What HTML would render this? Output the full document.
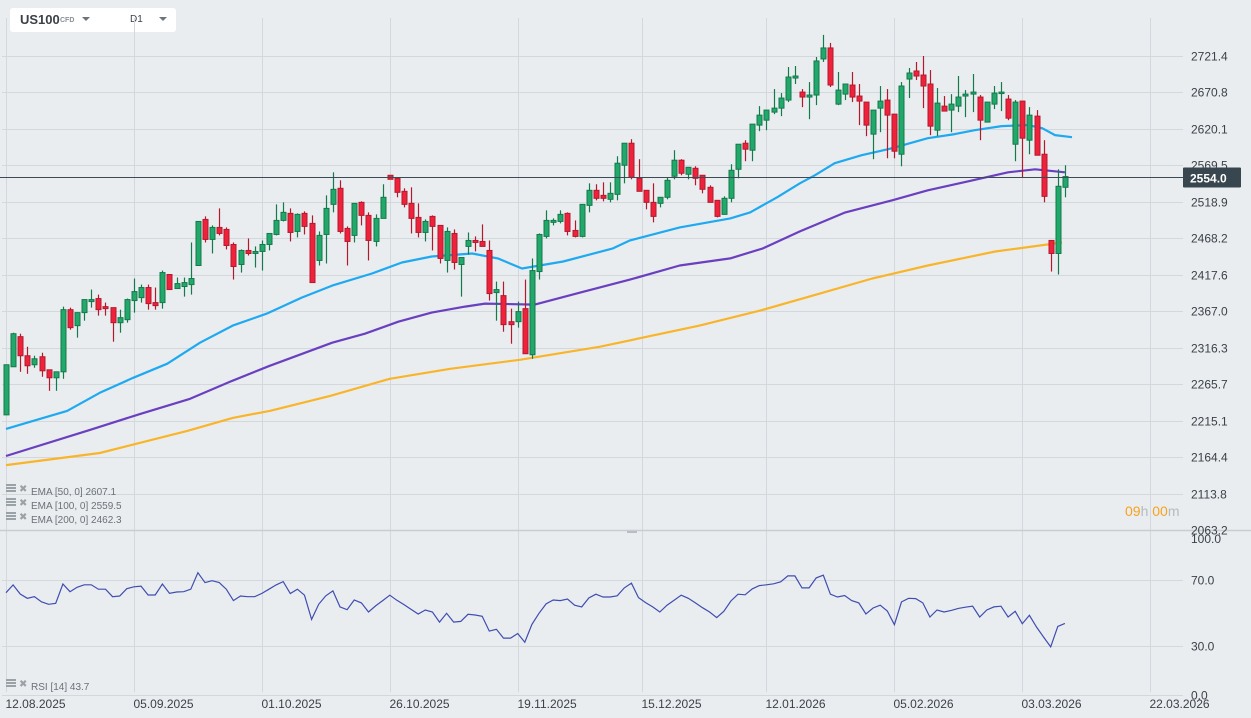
<!DOCTYPE html>
<html><head><meta charset="utf-8">
<style>
html,body{margin:0;padding:0;background:#eaedf0;}
body{width:1251px;height:718px;overflow:hidden;position:relative;font-family:"Liberation Sans",sans-serif;}
#chart{position:absolute;left:0;top:0;}
.hdr{position:absolute;left:10px;top:8px;width:166px;height:24px;background:#fff;border-radius:3px;}
.sym{position:absolute;left:10px;top:4px;font-size:13px;font-weight:bold;color:#3a4148;}
.cfd{position:absolute;left:50px;top:9px;font-size:7px;font-weight:bold;color:#8a9096;}
.tri{position:absolute;width:0;height:0;border-left:4px solid transparent;border-right:4px solid transparent;border-top:4px solid #6d747a;}
.tf{position:absolute;left:120px;top:6px;font-size:10px;color:#3a4148;}
</style></head>
<body>
<div class="hdr">
  <span class="sym">US100</span>
  <span class="cfd">CFD</span>
  <span class="tri" style="left:72px;top:9px"></span>
  <span class="tf">D1</span>
  <span class="tri" style="left:149px;top:9px"></span>
</div>
<svg id="chart" width="1251" height="718" xmlns="http://www.w3.org/2000/svg"></svg>
<script>
const opens=[2223.1,2289.9,2331.7,2305.2,2292.7,2303.8,2285.7,2274.6,2282.9,2369.2,2347.0,2365.1,2380.4,2384.6,2373.4,2372.0,2351.1,2355.3,2381.8,2385.9,2399.9,2379.0,2379.0,2418.0,2398.5,2401.3,2404.0,2430.5,2494.5,2466.7,2483.4,2480.6,2459.7,2431.9,2451.4,2447.2,2450.0,2459.7,2473.6,2493.1,2502.9,2477.8,2502.9,2489.0,2437.5,2473.6,2515.4,2537.7,2482.0,2472.3,2518.2,2500.1,2463.9,2495.9,2555.8,2551.6,2533.5,2516.8,2497.3,2476.4,2498.7,2486.2,2437.5,2475.0,2431.9,2457.0,2465.3,2463.9,2451.4,2392.9,2388.7,2352.5,2352.5,2370.6,2306.6,2422.1,2470.9,2490.4,2491.7,2502.9,2479.2,2470.9,2514.0,2534.9,2527.9,2522.4,2529.3,2569.7,2600.3,2551.6,2534.9,2518.2,2516.8,2525.2,2554.4,2576.7,2557.2,2565.5,2555.8,2539.1,2521.0,2501.5,2523.8,2564.1,2600.3,2590.6,2625.4,2632.3,2643.5,2649.0,2660.2,2690.8,2671.3,2664.4,2667.2,2717.3,2732.6,2654.6,2668.5,2681.1,2665.8,2657.4,2612.9,2649.0,2660.2,2640.7,2585.0,2689.4,2700.6,2695.0,2682.5,2618.4,2651.8,2646.3,2651.8,2665.8,2668.5,2664.4,2629.6,2654.6,2669.9,2661.6,2598.9,2658.8,2604.5,2637.9,2585.0,2465.3,2447.2,2539.1];
const highs=[2292.7,2337.2,2335.8,2317.7,2305.2,2309.4,2285.7,2282.9,2373.4,2372.0,2365.1,2383.2,2397.1,2390.1,2379.0,2372.0,2369.2,2384.6,2412.4,2404.0,2404.0,2399.9,2423.5,2418.0,2413.8,2413.8,2462.5,2491.7,2498.7,2486.2,2509.8,2483.4,2462.5,2452.8,2468.1,2457.0,2465.3,2475.0,2515.4,2518.2,2509.8,2502.9,2505.7,2500.1,2477.8,2527.9,2559.9,2548.8,2484.8,2516.8,2519.6,2504.3,2501.5,2543.3,2555.8,2551.6,2537.7,2539.1,2516.8,2494.5,2500.1,2486.2,2483.4,2480.6,2441.6,2476.4,2470.9,2487.6,2465.3,2408.2,2408.2,2370.6,2380.4,2411.0,2440.3,2475.0,2507.1,2495.9,2507.1,2504.3,2493.1,2515.4,2544.6,2543.3,2546.0,2546.0,2582.2,2600.3,2605.9,2578.1,2534.9,2544.6,2525.2,2553.0,2590.6,2578.1,2566.9,2568.3,2555.8,2541.9,2521.0,2526.5,2571.1,2598.9,2604.5,2626.8,2651.8,2646.3,2675.5,2669.9,2706.1,2707.5,2675.5,2685.2,2720.0,2750.7,2739.5,2699.2,2682.5,2699.2,2682.5,2657.4,2646.3,2679.7,2675.5,2640.7,2685.2,2704.7,2713.1,2721.4,2701.9,2676.9,2665.8,2668.5,2693.6,2674.1,2696.4,2667.2,2657.4,2679.7,2685.2,2667.2,2660.2,2658.8,2650.4,2646.3,2604.5,2465.3,2564.1,2569.7];
const lows=[2223.1,2289.9,2282.9,2280.1,2288.5,2276.0,2256.5,2256.5,2273.2,2341.4,2330.3,2353.9,2372.0,2360.9,2360.9,2324.7,2337.2,2351.1,2365.1,2379.0,2369.2,2369.2,2370.6,2397.1,2398.5,2387.3,2390.1,2430.5,2462.5,2447.2,2472.3,2452.8,2411.0,2420.7,2444.4,2427.7,2423.5,2451.4,2472.3,2491.7,2463.9,2469.5,2473.6,2406.8,2430.5,2433.3,2504.3,2475.0,2430.5,2462.5,2486.2,2437.5,2457.0,2495.9,2550.2,2525.2,2511.2,2475.0,2469.5,2463.9,2451.4,2433.3,2420.7,2424.9,2387.3,2445.8,2450.0,2457.0,2381.8,2353.9,2338.6,2321.9,2344.2,2308.0,2301.0,2411.0,2468.1,2486.2,2489.0,2472.3,2469.5,2469.5,2504.3,2521.0,2519.6,2518.2,2521.0,2544.6,2550.2,2533.5,2508.5,2490.4,2511.2,2522.4,2550.2,2555.8,2550.2,2541.9,2530.7,2518.2,2497.3,2501.5,2518.2,2551.6,2575.3,2575.3,2617.0,2618.4,2640.7,2637.9,2657.4,2682.5,2650.4,2633.7,2653.2,2713.1,2678.3,2653.2,2660.2,2657.4,2625.4,2610.1,2578.1,2615.6,2579.4,2579.4,2568.3,2663.0,2688.0,2649.0,2611.5,2610.1,2644.9,2615.6,2643.5,2636.5,2643.5,2604.5,2629.6,2647.7,2644.9,2632.3,2575.3,2553.0,2585.0,2583.6,2518.2,2422.1,2418.0,2525.2];
const closes=[2292.7,2335.8,2305.2,2291.3,2301.0,2284.3,2274.6,2282.9,2369.2,2344.2,2365.1,2383.2,2383.2,2369.2,2370.6,2351.1,2358.1,2383.2,2394.3,2399.9,2377.6,2374.8,2420.7,2397.1,2405.4,2406.8,2412.4,2491.7,2466.7,2483.4,2475.0,2458.3,2429.1,2451.4,2447.2,2450.0,2459.7,2475.0,2493.1,2504.3,2476.4,2501.5,2484.8,2406.8,2472.3,2509.8,2536.3,2477.8,2463.9,2516.8,2500.1,2465.3,2495.9,2525.2,2550.2,2532.1,2515.4,2495.9,2476.4,2491.7,2484.8,2440.3,2477.8,2434.7,2441.6,2465.3,2462.5,2457.0,2391.5,2397.1,2348.4,2348.4,2366.5,2308.0,2423.5,2473.6,2493.1,2493.1,2501.5,2477.8,2470.9,2515.4,2534.9,2523.8,2523.8,2530.7,2572.5,2600.3,2553.0,2533.5,2518.2,2498.7,2525.2,2548.8,2576.7,2558.6,2566.9,2551.6,2536.3,2518.2,2498.7,2523.8,2562.7,2598.9,2592.0,2626.8,2639.3,2646.3,2649.0,2663.0,2692.2,2693.6,2664.4,2667.2,2714.5,2732.6,2681.1,2674.1,2682.5,2664.4,2658.8,2625.4,2646.3,2658.8,2639.3,2589.2,2679.7,2697.8,2693.6,2679.7,2624.0,2656.0,2644.9,2654.6,2664.4,2668.5,2671.3,2632.3,2657.4,2669.9,2671.3,2635.1,2657.4,2607.3,2639.3,2583.6,2526.5,2447.2,2540.5,2554.0];
const ema50Idx=[0,3.8,8.6,13.2,17.9,22.7,27.3,31.9,36.7,41.6,45.9,51.5,55.7,59.9,65.6,69.2,72.6,78.4,85.4,87.8,94.8,101.9,104.7,108.5,111.7,113.8,116.6,120.4,124.7,129.7,133.5,136.3,140.1,143.8,145.8,147.6,150];
const ema50Val=[2203.6,2214.7,2228.6,2253.7,2274.6,2294.1,2323.3,2347.0,2363.7,2385.9,2402.6,2419.4,2434.7,2443.0,2447.2,2440.3,2426.3,2436.1,2454.2,2465.3,2483.4,2495.9,2504.3,2525.2,2544.6,2555.8,2572.5,2583.6,2593.4,2607.3,2612.9,2618.4,2624.0,2625.4,2621.2,2611.5,2608.7];
const ema100Idx=[0,11.8,18.9,25.9,31.5,37.1,42.1,45.9,50.5,55.2,59.9,64.6,67.4,74.4,80.8,87.8,94.8,101.9,106.5,111.7,118.1,124.7,129.7,135.4,141.0,144.8,149];
const ema100Val=[2166.0,2202.2,2224.5,2245.4,2269.0,2291.3,2309.4,2323.3,2335.8,2352.5,2365.1,2373.4,2377.6,2376.2,2392.9,2411.0,2430.5,2440.3,2454.2,2477.8,2504.3,2521.0,2534.9,2547.4,2559.9,2564.1,2559.9];
const ema200Idx=[0,13.2,25.5,31.9,37.1,45.6,54.0,62.5,72.3,83.6,97.6,106.1,114.5,121.9,129.7,139.2,148.6];
const ema200Val=[2153.4,2170.2,2200.8,2218.9,2228.6,2249.5,2273.2,2287.1,2299.6,2317.7,2347.0,2367.9,2391.5,2412.4,2430.5,2450.0,2462.5];
const rsiVals=[62.0,66.7,61.2,58.6,59.6,56.5,55.0,55.6,67.3,62.6,65.3,66.8,66.8,64.1,64.1,59.6,60.0,64.4,65.6,66.0,60.6,60.6,67.3,61.6,62.4,62.6,64.1,74.1,68.1,69.3,68.1,64.1,57.2,60.0,59.6,59.6,61.6,64.1,66.7,68.7,61.5,64.1,60.5,45.8,55.0,60.1,63.1,53.4,51.7,57.6,55.8,50.3,54.0,57.2,60.5,57.4,54.8,51.9,49.1,51.5,50.3,44.2,49.5,44.2,44.6,48.9,48.5,47.7,38.7,39.8,34.5,34.5,37.3,32.0,42.8,49.5,55.2,57.6,57.2,58.2,54.4,53.4,58.8,61.1,59.4,59.4,60.1,64.9,67.8,59.0,56.0,53.4,50.3,54.4,57.4,60.5,58.6,55.8,52.9,50.3,46.9,50.7,57.0,61.1,60.7,64.3,66.3,66.8,67.4,68.6,72.2,72.2,64.9,64.9,71.0,72.6,61.1,59.4,60.3,57.2,55.8,49.1,52.7,54.4,50.9,42.6,56.4,58.6,58.4,55.8,47.3,51.5,50.3,51.3,52.5,53.2,53.8,47.3,51.5,53.4,53.8,47.3,50.7,43.2,48.3,41.2,35.1,29.2,41.6,43.4];
const priceTicks=[2721.4,2670.8,2620.1,2569.5,2518.9,2468.2,2417.6,2367.0,2316.3,2265.7,2215.1,2164.4,2113.8,2063.2];
const rsiTicks=[100,70,30,0];
const dateLabels=["12.08.2025","05.09.2025","01.10.2025","26.10.2025","19.11.2025","15.12.2025","12.01.2026","05.02.2026","03.03.2026","22.03.2026"];
const dateIdx=[0,18,36,54,72,89.5,107,125,143,161];
const lastPrice=2554.0;

const NS="http://www.w3.org/2000/svg";
const svg=document.getElementById('chart');
const X0=6, DX=7.107, PLOT_R=1183;
const xs=i=>X0+DX*i;
const yp=p=>56+(2721.4-p)*0.7202;
const yr=v=>579.5+(70-v)*1.65;
function mk(tag,attrs,parent){const e=document.createElementNS(NS,tag);for(const k in attrs)e.setAttribute(k,attrs[k]);(parent||svg).appendChild(e);return e;}

const grid=mk('g',{});


dateLabels.forEach((d,k)=>{
  const x=Math.round(xs(dateIdx[k]))+0.5;
  const l=mk('line',{x1:x,x2:x,y1:18,y2:692,stroke:'#d3d8dc','stroke-width':1},grid);
  
  
  const t=mk('text',{x:x-1,y:708,'font-size':12,fill:'#3a4148','font-family':'Liberation Sans, sans-serif'});
  t.textContent=d;
  
  
});
priceTicks.forEach(p=>{
  const y=Math.round(yp(p))+0.5;
  const last=p===2063.2;
  const l=mk('line',{x1:last?0:2,x2:last?1251:PLOT_R,y1:y,y2:y,stroke:last?'#c8cdd2':'#d3d8dc','stroke-width':last?1.5:1},grid);
  
  
  const t=mk('text',{x:1191,y:y+4,'font-size':12,fill:'#3a4148','font-family':'Liberation Sans, sans-serif'});
  t.textContent=p.toFixed(1);
  
  
});
rsiTicks.forEach(v=>{
  const y=Math.round(yr(v))+0.5;
  if(v!==100){
    const l=mk('line',{x1:2,x2:PLOT_R,y1:y,y2:y,stroke:'#d3d8dc','stroke-width':1},grid);
    
    
  }
  const t=mk('text',{x:1191,y:v===100?543:y+4,'font-size':12,fill:'#3a4148','font-family':'Liberation Sans, sans-serif'});
  t.textContent=v.toFixed(1);
  
  
});
const hd=mk('rect',{x:627,y:531,width:10,height:2,fill:'#b8bec4'});



function emaLine(idx,vals,color,name){
  const pts=idx.map((i,k)=>xs(i).toFixed(1)+','+yp(vals[k]).toFixed(1)).join(' ');
  const pl=mk('polyline',{points:pts,fill:'none',stroke:color,'stroke-width':2.2,'stroke-linejoin':'round'});
  
  
}
emaLine(ema200Idx,ema200Val,'#f9b52a','ema-200-line');
emaLine(ema100Idx,ema100Val,'#6a3fc0','ema-100-line');
emaLine(ema50Idx,ema50Val,'#1ea9f0','ema-50-line');

const cg=mk('g',{});


closes.forEach((c,i)=>{
  const o=opens[i],h=highs[i],l=lows[i];
  const up=c>=o;
  const x=Math.round(xs(i))+0.5;
  const fill=up?'#22a86b':'#f0223b', st=up?'#137a4a':'#b3192d';
  const w=mk('line',{x1:x,x2:x,y1:yp(h),y2:yp(l),stroke:st,'stroke-width':1.2},cg);
  
  
  const top=yp(Math.max(o,c)),bot=yp(Math.min(o,c));
  const b=mk('rect',{x:x-2.5,y:top,width:5,height:Math.max(1.5,bot-top),fill:fill,stroke:st,'stroke-width':1},cg);
  
  
});

const ly=Math.round(yp(lastPrice))+0.5;
const pl=mk('line',{x1:0,x2:PLOT_R,y1:ly,y2:ly,stroke:'#3b4a55','stroke-width':1});


const pb=mk('rect',{x:1183,y:ly-10,width:58,height:20,fill:'#37464f',rx:1});


const pt=mk('text',{x:1190,y:ly+5,'font-size':12,'font-weight':'bold',fill:'#ffffff','font-family':'Liberation Sans, sans-serif'});
pt.textContent=lastPrice.toFixed(1);



const rpts=rsiVals.map((v,i)=>xs(i).toFixed(1)+','+yr(v).toFixed(1)).join(' ');
const rl=mk('polyline',{points:rpts,fill:'none',stroke:'#3f4db0','stroke-width':1.2});



function legend(y,label,name){
  const g=mk('g',{});
  
  
  mk('rect',{x:6,y:y-7,width:10,height:2,fill:'#9aa1a7'},g);
  mk('rect',{x:6,y:y-4,width:10,height:2,fill:'#9aa1a7'},g);
  mk('rect',{x:6,y:y-1,width:10,height:2,fill:'#9aa1a7'},g);
  const x=mk('text',{x:19,y:y+1,'font-size':10,'font-weight':'bold',fill:'#9aa1a7','font-family':'DejaVu Sans, sans-serif'},g);
  x.textContent='✖';
  const t=mk('text',{x:31,y:y+4,'font-size':10,fill:'#6b7177','font-family':'Liberation Sans, sans-serif'},g);
  t.textContent=label;
}
legend(491,'EMA  [50,  0]  2607.1','ema-50-legend');
legend(505,'EMA  [100,  0]  2559.5','ema-100-legend');
legend(519,'EMA  [200,  0]  2462.3','ema-200-legend');
legend(686,'RSI  [14]  43.7','rsi-legend');

const cd=mk('text',{x:1125,y:516,'font-size':14,'font-family':'Liberation Sans, sans-serif'});


cd.innerHTML='<tspan fill="#f7a21b">09</tspan><tspan fill="#b5babf">h </tspan><tspan fill="#f7a21b">00</tspan><tspan fill="#b5babf">m</tspan>';
</script>
</body></html>
